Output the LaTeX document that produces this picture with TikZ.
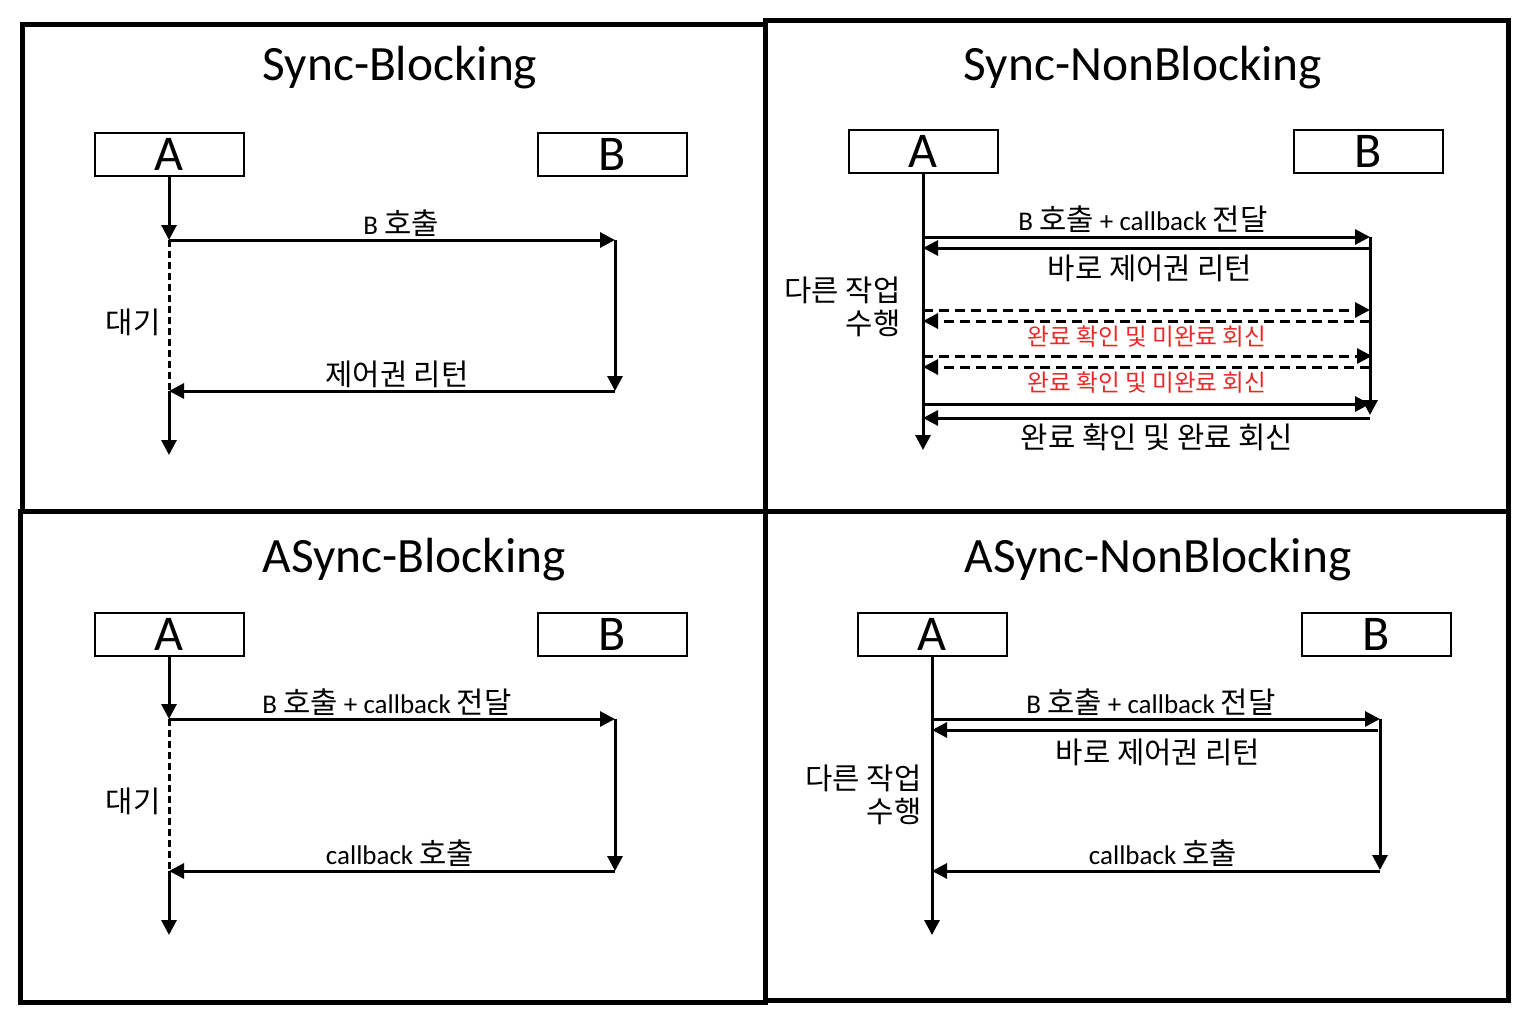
\documentclass[tikz,border=0pt]{standalone}
\usepackage{fontspec}
\setmainfont{Carlito}
\newfontfamily\kr[Scale=1.1]{Noto Sans CJK KR}
\usetikzlibrary{arrows.meta}
\definecolor{myred}{RGB}{235,40,40}
\begin{document}
\begin{tikzpicture}[x=0.5pt,y=-0.5pt,
  panel/.style={line width=2.5pt},
  ttl/.style={font=\fontsize{24.7}{30}\selectfont, inner sep=0, anchor=base},
  actor/.style={draw, line width=1pt, minimum width=74.5pt, minimum height=21.5pt, inner sep=0, font=\fontsize{25}{30}\selectfont},
  msg/.style={line width=1.5pt, -{Triangle[length=7.5pt,width=7.5pt]}},
  msgdash/.style={msg, dash pattern=on 5pt off 3pt},
  waitline/.style={line width=1.5pt, dash pattern=on 3.5pt off 2pt},
  lbl/.style={font=\fontsize{13.5}{16}\selectfont, inner sep=0},
  rlbl/.style={font=\fontsize{10.75}{12}\selectfont, inner sep=0, text=myred},
  side/.style={font=\fontsize{13.5}{16}\selectfont, inner sep=0, anchor=east}
]
\useasboundingbox (0,0) rectangle (1536,1028);
% panels
\draw[panel] (22,24) rectangle (765,511);
\draw[panel] (765,20) rectangle (1508,511);
\draw[panel] (20,511) rectangle (765,1002);
\draw[panel] (765,511) rectangle (1508,1000);

% ---------- Sync-Blocking ----------
\node[ttl] (t1) at (400,80) {Sync-Blocking};
\node[actor] (a1) at (169,154.5) {A};
\node[actor] (b1) at (612.5,154.5) {B};
\coordinate (a1c) at (169,240);
\coordinate (b1c) at (615,240);
\coordinate (b1r) at (615,391);
\coordinate (a1r) at (169,391);
\coordinate (a1e) at (169,455);
\draw[msg] (a1.south) -- (a1c);
\draw[msg] (a1c) -- (b1c);
\draw[msg] (b1c) -- (b1r);
\draw[msg] (b1r) -- (a1r);
\draw[waitline] (a1c) -- (a1r);
\draw[msg] (a1r) -- (a1e);
\node[lbl] (l11) at (401,223) {B {\kr 호출}};
\node[lbl] (l12) at (397,374) {\kr 제어권 리턴};
\node[lbl] (l13) at (133,322) {\kr 대기};

% ---------- Sync-NonBlocking ----------
\node[ttl] (t2) at (1143,80) {Sync-NonBlocking};
\node[actor] (a2) at (923,151) {A};
\node[actor] (b2) at (1368.5,151) {B};
\coordinate (a2e) at (923,450);
\coordinate (a2p1) at (923,237);
\coordinate (b2p1) at (1370,237);
\coordinate (b2p2) at (1370,248);
\coordinate (a2p2) at (923,248);
\coordinate (b2e) at (1370,415);
\coordinate (a2p3) at (923,310);
\coordinate (b2p3) at (1370,310);
\coordinate (b2p4) at (1370,321);
\coordinate (a2p4) at (923,321);
\coordinate (a2p5) at (923,356);
\coordinate (b2p5) at (1372,356);
\coordinate (b2p6) at (1370,367);
\coordinate (a2p6) at (923,367);
\coordinate (a2p7) at (925,404);
\coordinate (b2p7) at (1370,404);
\coordinate (b2p8) at (1370,418);
\coordinate (a2p8) at (923,418);
\draw[msg] (a2.south) -- (a2e);
\draw[msg] (a2p1) -- (b2p1);
\draw[msg] (b2p2) -- (a2p2);
\draw[msg] (b2p1) -- (b2e);
\draw[msgdash] (a2p3) -- (b2p3);
\draw[msgdash] (b2p4) -- (a2p4);
\draw[msgdash] (a2p5) -- (b2p5);
\draw[msgdash] (b2p6) -- (a2p6);
\draw[msg] (a2p7) -- (b2p7);
\draw[msg] (b2p8) -- (a2p8);
\node[lbl] (l21) at (1143,219) {B {\kr 호출} + callback {\kr 전달}};
\node[lbl] (l22) at (1150,268) {\kr 바로 제어권 리턴};
\node[rlbl] (l23) at (1147,337) {\kr 완료 확인 및 미완료 회신};
\node[rlbl] (l24) at (1147,383) {\kr 완료 확인 및 미완료 회신};
\node[lbl] (l25) at (1157,437) {\kr 완료 확인 및 완료 회신};
\node[side] (l26) at (901,290) {\kr 다른 작업};
\node[side] (l27) at (901,323) {\kr 수행};

% ---------- ASync-Blocking ----------
\node[ttl] (t3) at (414,572) {ASync-Blocking};
\node[actor] (a3) at (169,634) {A};
\node[actor] (b3) at (612.5,634) {B};
\coordinate (a3c) at (169,719);
\coordinate (b3c) at (615,719);
\coordinate (b3r) at (615,871);
\coordinate (a3r) at (169,871);
\coordinate (a3e) at (169,935);
\draw[msg] (a3.south) -- (a3c);
\draw[msg] (a3c) -- (b3c);
\draw[msg] (b3c) -- (b3r);
\draw[msg] (b3r) -- (a3r);
\draw[waitline] (a3c) -- (a3r);
\draw[msg] (a3r) -- (a3e);
\node[lbl] (l31) at (387,702) {B {\kr 호출} + callback {\kr 전달}};
\node[lbl] (l32) at (400,853) {callback {\kr 호출}};
\node[lbl] (l33) at (133,801) {\kr 대기};

% ---------- ASync-NonBlocking ----------
\node[ttl] (t4) at (1158,572) {ASync-NonBlocking};
\node[actor] (a4) at (932,634) {A};
\node[actor] (b4) at (1376.5,634) {B};
\coordinate (a4e) at (932,935);
\coordinate (a4p1) at (932,719);
\coordinate (b4p1) at (1380,719);
\coordinate (b4p2) at (1378,730);
\coordinate (a4p2) at (932,730);
\coordinate (b4e) at (1380,870);
\coordinate (b4p3) at (1380,871);
\coordinate (a4p3) at (932,871);
\draw[msg] (a4.south) -- (a4e);
\draw[msg] (a4p1) -- (b4p1);
\draw[msg] (b4p2) -- (a4p2);
\draw[msg] (b4p1) -- (b4e);
\draw[msg] (b4p3) -- (a4p3);
\node[lbl] (l41) at (1151,702) {B {\kr 호출} + callback {\kr 전달}};
\node[lbl] (l42) at (1158,752) {\kr 바로 제어권 리턴};
\node[lbl] (l43) at (1163,853) {callback {\kr 호출}};
\node[side] (l44) at (922,778) {\kr 다른 작업};
\node[side] (l45) at (922,811) {\kr 수행};
\end{tikzpicture}
\end{document}
